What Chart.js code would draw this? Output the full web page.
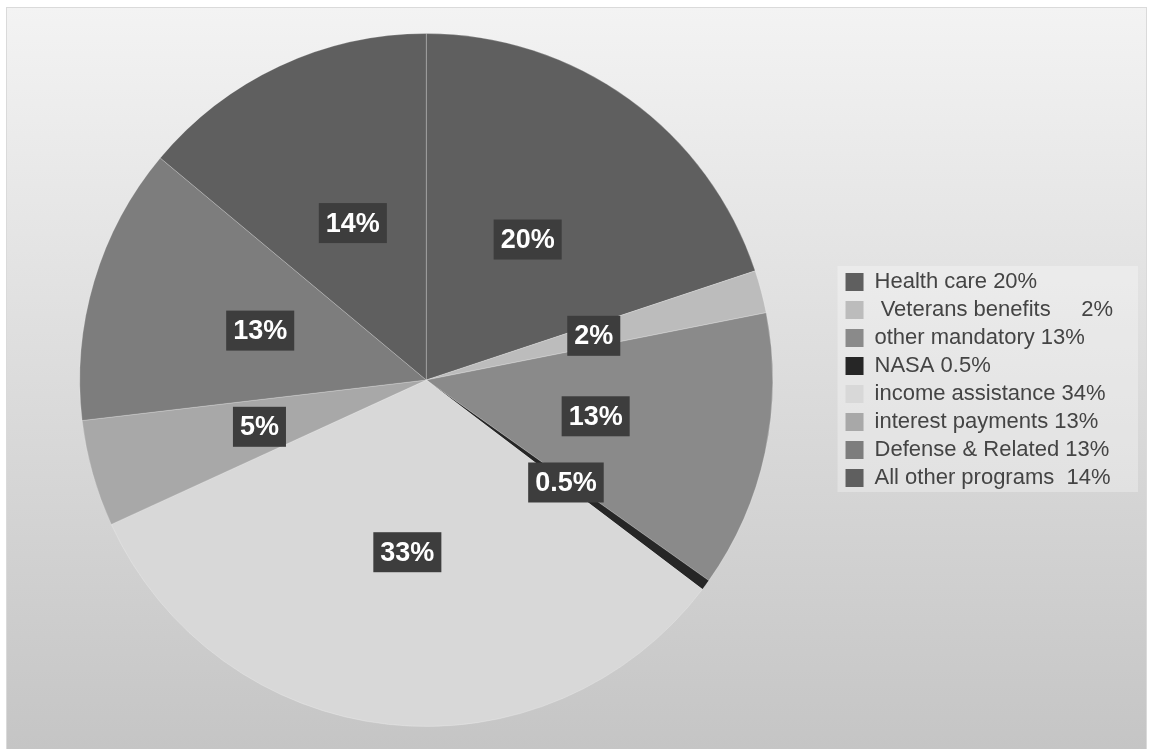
<!DOCTYPE html>
<html>
<head>
<meta charset="utf-8">
<script src="https://cdn.jsdelivr.net/npm/chart.js@4.4.1/dist/chart.umd.min.js"></script>
<style>
  html, body { margin: 0; padding: 0; background: #fff; }
  #wrap { width: 1150px; height: 749px; }
</style>
</head>
<body>
<div id="wrap"><canvas id="budgetChart" width="1150" height="749"></canvas></div>
<script>
// 범례 문구 (원본 그대로, 라벨 값과 다른 곳 있음)
const legendLabels = [
  'Health care 20%',
  ' Veterans benefits     2%',
  'other mandatory 13%',
  'NASA 0.5%',
  'income assistance 34%',
  'interest payments 13%',
  'Defense & Related 13%',
  'All other programs  14%',
];
// 조각 크기 = 조각 위 라벨 값
const shares = [20, 2, 13, 0.5, 33, 5, 13, 14];
const sliceColors = ['#5f5f5f', '#bcbcbc', '#8a8a8a', '#262626', '#d8d8d8', '#a8a8a8', '#7d7d7d', '#5f5f5f'];

const FONT = '"Liberation Sans", Arial, sans-serif';

// 배경 (회색 그라데이션 + 범례 패널)
const frameBackground = {
  id: 'frameBackground',
  beforeDraw(chart) {
    const { ctx, width, height } = chart;
    ctx.save();
    ctx.fillStyle = '#fff';
    ctx.fillRect(0, 0, width, height);
    const g = ctx.createLinearGradient(0, 7, 0, height);
    g.addColorStop(0, '#f3f3f3');
    g.addColorStop(1, '#c5c5c5');
    ctx.fillStyle = g;
    ctx.fillRect(6, 7, width - 9, height - 7);
    ctx.strokeStyle = '#dadada';
    ctx.strokeRect(6.5, 7.5, width - 10, height - 7);

    const boxes = chart.legend.legendHitBoxes;
    if (boxes && boxes.length) {
      const first = boxes[0];
      const last = boxes[boxes.length - 1];
      const x0 = first.left - 8;
      const y0 = first.top - 5;
      ctx.fillStyle = 'rgba(255,255,255,0.3)';
      ctx.fillRect(x0, y0, width - 12 - x0, last.top + last.height + 3 - y0);
    }
    ctx.restore();
  },
};

// 조각 가운데 어두운 박스 라벨
const sliceLabels = {
  id: 'sliceLabels',
  afterDatasetsDraw(chart) {
    const { ctx } = chart;
    const arcs = chart.getDatasetMeta(0).data;
    ctx.save();
    ctx.font = 'bold 27px ' + FONT;
    ctx.textAlign = 'center';
    ctx.textBaseline = 'middle';
    arcs.forEach((arc, i) => {
      const { x, y } = arc.getCenterPoint();
      const text = `${shares[i]}%`;
      const w = ctx.measureText(text).width + 14;
      const h = 40;
      ctx.fillStyle = '#3d3d3d';
      ctx.fillRect(x - w / 2, y - h / 2, w, h);
      ctx.fillStyle = '#fff';
      ctx.fillText(text, x, y + 1);
    });
    ctx.restore();
  },
};

const ctx = document.getElementById('budgetChart').getContext('2d');
new Chart(ctx, {
  type: 'pie',
  data: {
    labels: legendLabels,
    datasets: [
      {
        data: shares,
        backgroundColor: sliceColors,
        borderColor: 'rgba(255,255,255,0.22)',
        borderWidth: 1,
      },
    ],
  },
  options: {
    responsive: false,
    animation: false,
    layout: { padding: { left: 13, right: 27, top: 33, bottom: 22 } },
    plugins: {
      legend: {
        position: 'right',
        labels: {
          boxWidth: 18,
          boxHeight: 18,
          padding: 6,
          color: '#444',
          font: { size: 22, family: FONT },
          generateLabels: (chart) =>
            Chart.overrides.pie.plugins.legend.labels
              .generateLabels(chart)
              .map((item) => ({ ...item, lineWidth: 0 })),
        },
      },
      tooltip: { enabled: false },
    },
  },
  plugins: [frameBackground, sliceLabels],
});
</script>
</body>
</html>
